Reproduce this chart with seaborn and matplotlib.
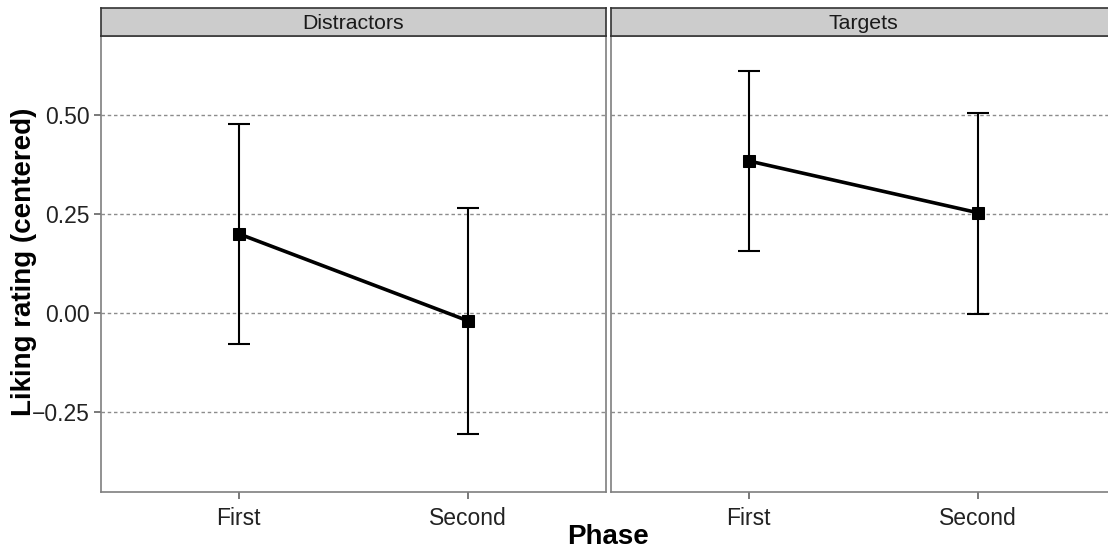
import pandas as pd
import seaborn as sns
import matplotlib.pyplot as plt

# Datos
facets = ['Distractors', 'Targets']
phases = ['First', 'Second']
distractors_mean = [0.200, -0.020]
distractors_low = [-0.079, -0.306]
distractors_high = [0.478, 0.265]
targets_mean = [0.384, 0.253]
targets_low = [0.157, -0.002]
targets_high = [0.612, 0.504]

df = pd.DataFrame({
    'Stimulus': [facets[0]] * 2 + [facets[1]] * 2,
    'Phase': phases * 2,
    'Liking': distractors_mean + targets_mean,
    'Low': distractors_low + targets_low,
    'High': distractors_high + targets_high,
})

sns.set_theme(style='white')
plt.rcParams['font.family'] = ['Liberation Sans', 'DejaVu Sans']

fig = plt.figure(figsize=(11.08, 5.52), dpi=100)
W, H = 1108, 552
panel_left = [101, 611]
panel_w = 505
top_px, bottom_px = 36, 492
strip_top = 8

for i, name in enumerate(facets):
    ax = fig.add_axes([panel_left[i] / W, 1 - bottom_px / H, panel_w / W, (bottom_px - top_px) / H])
    sub = df[df['Stimulus'] == name]

    # Grilla punteada
    for yv in [-0.25, 0.0, 0.25, 0.5]:
        ax.axhline(yv, color='#8c8c8c', lw=1, ls=(0, (2.5, 2)), zorder=0)

    ax.errorbar(sub['Phase'], sub['Liking'],
                yerr=[sub['Liking'] - sub['Low'], sub['High'] - sub['Liking']],
                fmt='none', ecolor='black', elinewidth=1.5, capsize=8, capthick=1.5, zorder=2)
    sns.lineplot(data=sub, x='Phase', y='Liking', ax=ax, color='black', lw=2.6,
                 marker='s', markersize=8.5, markeredgecolor='black', sort=False, zorder=3)

    ax.set_xlim(-0.6, 1.6)
    ax.set_ylim(-0.452, 0.6995)
    ax.set_yticks([-0.25, 0.0, 0.25, 0.5])
    ax.set_xlabel('')
    ax.set_ylabel('')
    for s in ax.spines.values():
        s.set_color('#7f7f7f')
        s.set_linewidth(1.2)
    ax.tick_params(axis='x', length=5, width=1.1, color='#555555', labelsize=16.5, labelcolor='#222222', pad=6, bottom=True)
    if i == 0:
        ax.set_yticklabels(['\u22120.25', '0.00', '0.25', '0.50'])
        ax.tick_params(axis='y', length=5, width=1.1, color='#555555', labelsize=16.5, labelcolor='#222222', pad=3, left=True)
    else:
        ax.set_yticklabels([])
        ax.tick_params(axis='y', length=0)

    # Encabezado de la faceta
    sax = fig.add_axes([panel_left[i] / W, 1 - top_px / H, panel_w / W, (top_px - strip_top) / H])
    sax.set_facecolor('#cccccc')
    sax.set_xticks([])
    sax.set_yticks([])
    for s in sax.spines.values():
        s.set_color('#333333')
        s.set_linewidth(1.2)
    sax.text(0.5, 0.45, name, transform=sax.transAxes, ha='center', va='center', fontsize=15.3, color='#1a1a1a')

fig.text(24 / W, 1 - 262 / H, 'Liking rating (centered)', rotation=90, ha='center', va='center',
         fontsize=20, fontweight='bold', color='black')
fig.text(608 / W, 1 - 537 / H, 'Phase', ha='center', va='center', fontsize=20, fontweight='bold', color='black')

fig.savefig('out.png', dpi=100)
